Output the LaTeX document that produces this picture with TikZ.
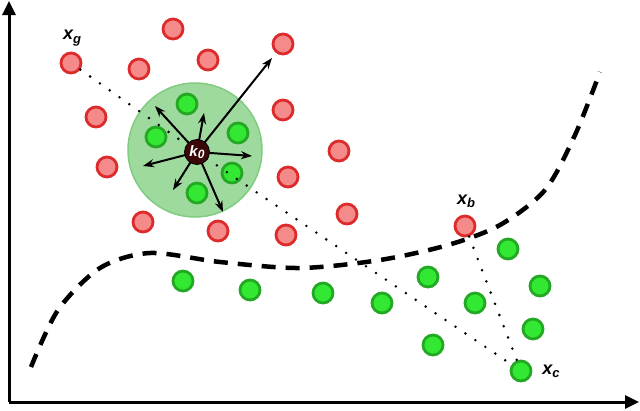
\documentclass[tikz,border=0pt]{standalone}
\usepackage{fontspec}
\setmainfont{Liberation Sans}
\usetikzlibrary{arrows.meta}
\definecolor{redfill}{HTML}{F48A8A}
\definecolor{redline}{HTML}{DD2A2A}
\definecolor{grfill}{HTML}{33E833}
\definecolor{grline}{HTML}{22A822}
\definecolor{bigfill}{HTML}{9ED99E}
\definecolor{bigline}{HTML}{80CC80}
\definecolor{kfill}{HTML}{3A0808}
\tikzset{
  redpt/.style={circle,draw=redline,fill=redfill,line width=2.8pt,minimum size=20pt,inner sep=0pt},
  grpt/.style={circle,draw=grline,fill=grfill,line width=2.8pt,minimum size=20pt,inner sep=0pt},
  lab/.style={font=\fontsize{18}{18}\selectfont\bfseries\itshape,inner sep=0pt},
  dotline/.style={line width=2.8pt,line cap=round,dash pattern=on 0pt off 12pt},
  vec/.style={line width=2pt,-{Stealth[length=11pt,width=8pt]}},
  axis/.style={line width=3pt,-{Triangle[length=14pt,width=13pt]}},
  boundary/.style={line width=4.5pt,dash pattern=on 14pt off 10pt},
  kstyle/.style={circle,fill=kfill,draw=black,line width=0.8pt,minimum size=25pt,inner sep=0pt,text=white,font=\fontsize{15}{15}\selectfont\bfseries\itshape}
}
\newcommand{\xlab}[1]{x\raisebox{-0.35ex}{\fontsize{13}{13}\selectfont #1}}
\begin{document}
\begin{tikzpicture}[x=1pt,y=-1pt]
\useasboundingbox (0,0) rectangle (640,410);
% axes
\coordinate (o) at (9,402);
\coordinate (ytop) at (9,1);
\coordinate (xend) at (639,402);
\draw[axis] (o) -- (ytop);
\draw[axis] (o) -- (xend);
% neighbourhood
\node[circle,draw=bigline,fill=bigfill,line width=1.5pt,minimum size=134pt,inner sep=0pt] (nb) at (195,150) {};
% points
\node[redpt] (xg) at (71,63) {};
\node[redpt] (r1) at (173,29) {};
\node[redpt] (r2) at (283,44) {};
\node[redpt] (r3) at (208,60) {};
\node[redpt] (r4) at (139,69) {};
\node[redpt] (r5) at (96,117) {};
\node[redpt] (r6) at (283,110) {};
\node[redpt] (r7) at (107,167) {};
\node[redpt] (r8) at (339,151) {};
\node[redpt] (r9) at (288,177) {};
\node[redpt] (r10) at (143,222) {};
\node[redpt] (r11) at (218,231) {};
\node[redpt] (r12) at (286,235) {};
\node[redpt] (r13) at (347,214) {};
\node[redpt] (xb) at (465,226) {};
\node[grpt] (g1) at (187,104) {};
\node[grpt] (g2) at (156,137) {};
\node[grpt] (g3) at (238,133) {};
\node[grpt] (g4) at (232,173) {};
\node[grpt] (g5) at (197,193) {};
\node[grpt] (g6) at (183,281) {};
\node[grpt] (g7) at (250,290) {};
\node[grpt] (g8) at (323,293) {};
\node[grpt] (g9) at (382,303) {};
\node[grpt] (g10) at (428,277) {};
\node[grpt] (g11) at (475,303) {};
\node[grpt] (g12) at (433,345) {};
\node[grpt] (g13) at (508,249) {};
\node[grpt] (g14) at (540,286) {};
\node[grpt] (g15) at (533,329) {};
\node[grpt] (xc) at (521,371) {};
% k0 position
\coordinate (k0) at (197,152);
% dotted lines
\draw[dotline] (xg) -- (k0);
\draw[dotline] (k0) -- (xc);
\draw[dotline] (xb) -- (xc);
% boundary
\draw[boundary] plot[smooth] coordinates {(31,367) (58,310) (100,268) (150,253) (220,262) (300,268) (380,260) (448,245) (500,225) (545,190) (575,135) (600,72)};
% vectors
\coordinate (a1) at (272,58);
\coordinate (a2) at (155,106);
\coordinate (a3) at (204,113);
\coordinate (a4) at (252,156);
\coordinate (a5) at (143,166);
\coordinate (a6) at (173,190);
\coordinate (a7) at (223,212);
\foreach \t in {a1,a2,a3,a4,a5,a6,a7} \draw[vec] (k0) -- (\t);
\node[kstyle] (kn) at (k0) {k\raisebox{-0.3ex}{\fontsize{12}{12}\selectfont 0}};
% labels
\node[lab] (lg) at (72,38) {\xlab{g}};
\node[lab] (lb) at (466,201) {\xlab{b}};
\node[lab] (lc) at (551,371) {\xlab{c}};
\end{tikzpicture}
\end{document}
